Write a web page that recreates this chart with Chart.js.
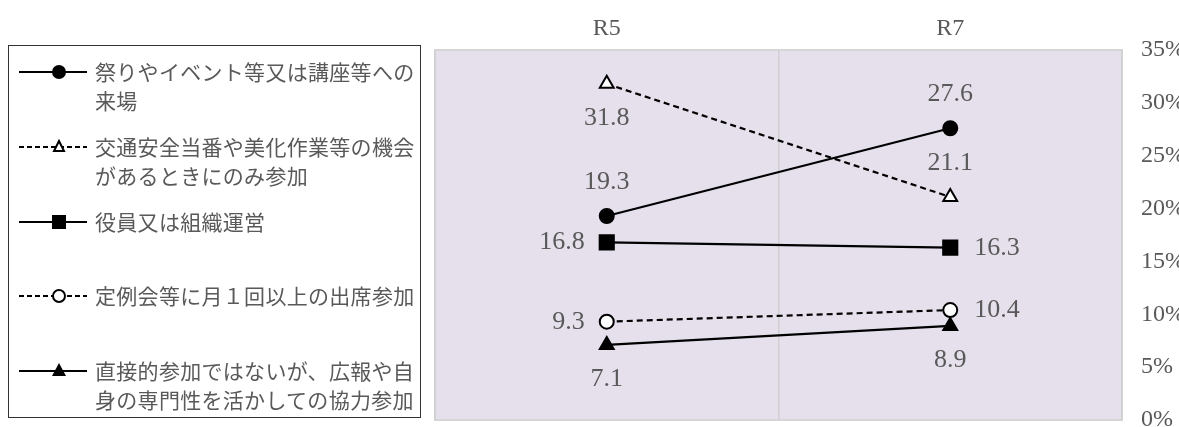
<!DOCTYPE html>
<html>
<head>
<meta charset="utf-8">
<script src="https://cdn.jsdelivr.net/npm/chart.js@4/dist/chart.umd.min.js"></script>
<style>
  body { margin: 0; background: #fff; }
  #wrap { position: relative; width: 1179px; height: 427px; overflow: hidden; }
  /* canvas a little taller than the page so the plot reaches y=420 and 0% is cut like the original */
  #chartBox { position: absolute; left: 0; top: 0; width: 1179px; height: 432px; }
  #legend {
    position: absolute; left: 8px; top: 45px; width: 413px; height: 373px;
    border: 1.5px solid #333; box-sizing: border-box; background: #fff;
  }
  .item { position: absolute; left: 0; width: 410px; }
  .item svg { position: absolute; left: 8px; top: 5px; }
  .item .txt {
    position: absolute; left: 86px; top: 0; width: 330px;
    font-family: "Noto Sans CJK JP", sans-serif; font-size: 21px; letter-spacing: 0.3px;
    line-height: 29px; color: #595959;
  }
</style>
</head>
<body>
<div id="wrap">
  <div id="chartBox"><canvas id="myChart"></canvas></div>
  <div id="legend"></div>
</div>
<script>
const years = ['R5', 'R7'];
const seriesNames = [
  '祭りやイベント等又は講座等への来場',
  '交通安全当番や美化作業等の機会があるときにのみ参加',
  '役員又は組織運営',
  '定例会等に月１回以上の出席参加',
  '直接的参加ではないが、広報や自身の専門性を活かしての協力参加'
];
const festival = [19.3, 27.6];
const trafficSafety = [31.8, 21.1];
const officer = [16.8, 16.3];
const monthlyMeeting = [9.3, 10.4];
const indirect = [7.1, 8.9];
const yTicks = [0, 5, 10, 15, 20, 25, 30, 35];

// where each value label sits relative to its point (R5, R7)
const labelSides = [
  ['above', 'above'],
  ['below', 'above'],
  ['left', 'right'],
  ['left', 'right'],
  ['below', 'below']
];

const markers = [
  { style: 'circle', radius: 7, fill: '#000', dash: [] },
  { style: 'triangle', radius: 8, fill: '#fff', dash: [6, 4] },
  { style: 'rect', radius: 10, fill: '#000', dash: [] },
  { style: 'circle', radius: 7, fill: '#fff', dash: [6, 4] },
  { style: 'triangle', radius: 8, fill: '#000', dash: [] }
];

const allValues = [festival, trafficSafety, officer, monthlyMeeting, indirect];

const datasets = allValues.map((vals, i) => ({
  label: seriesNames[i],
  data: vals,
  borderColor: '#000',
  borderWidth: 2.2,
  borderDash: markers[i].dash,
  pointStyle: markers[i].style,
  pointRadius: markers[i].radius,
  pointBackgroundColor: markers[i].fill,
  pointBorderColor: '#000',
  pointBorderWidth: 2,
  fill: false,
  tension: 0
}));

const plotBg = {
  id: 'plotBg',
  beforeDraw(chart) {
    const { ctx, chartArea: a } = chart;
    ctx.save();
    ctx.fillStyle = '#e5e0ec';
    ctx.fillRect(a.left, a.top, a.right - a.left, a.bottom - a.top);
    ctx.strokeStyle = '#d6d6d6';
    ctx.lineWidth = 2;
    ctx.strokeRect(a.left, a.top, a.right - a.left, a.bottom - a.top);
    ctx.restore();
  }
};

const valueLabels = {
  id: 'valueLabels',
  afterDatasetsDraw(chart) {
    const ctx = chart.ctx;
    ctx.save();
    ctx.font = '26px "Liberation Serif", serif';
    ctx.fillStyle = '#595959';
    ctx.textBaseline = 'middle';
    chart.data.datasets.forEach((ds, i) => {
      chart.getDatasetMeta(i).data.forEach((pt, j) => {
        const side = labelSides[i][j];
        let x = pt.x, y = pt.y;
        ctx.textAlign = 'center';
        if (side === 'above') y -= 34;
        if (side === 'below') y += 34;
        if (side === 'left') { x -= 22; ctx.textAlign = 'right'; }
        if (side === 'right') { x += 24; ctx.textAlign = 'left'; }
        ctx.fillText(ds.data[j].toFixed(1), x, y);
      });
    });
    ctx.restore();
  }
};

const config = {
  type: 'line',
  data: { labels: years, datasets: datasets },
  options: {
    responsive: true,
    maintainAspectRatio: false,
    animation: false,
    layout: { padding: { left: 435, right: 0, top: 0, bottom: 1 } },
    plugins: { legend: { display: false }, tooltip: { enabled: false } },
    scales: {
      x: {
        position: 'top',
        offset: true,
        grid: { offset: true, color: '#d0d0d0', lineWidth: 1.5, drawTicks: false },
        border: { display: false },
        ticks: { color: '#595959', font: { family: '"Liberation Serif", serif', size: 24 }, padding: 7 },
        afterFit(scale) { scale.height = 50; }
      },
      y: {
        position: 'right',
        min: 0,
        max: 35,
        afterBuildTicks(scale) { scale.ticks = yTicks.map(v => ({ value: v })); },
        grid: { display: false, drawTicks: false },
        border: { display: false },
        ticks: {
          color: '#595959',
          font: { family: '"Liberation Serif", serif', size: 24 },
          padding: 19,
          callback: v => v + '%'
        },
        afterFit(scale) { scale.width = 57; scale.paddingTop = 0; scale.paddingBottom = 0; }
      }
    }
  },
  plugins: [plotBg, valueLabels]
};

new Chart(document.getElementById('myChart'), config);

// legend built from the same series info
const legend = document.getElementById('legend');
seriesNames.forEach((name, i) => {
  const m = markers[i];
  const row = document.createElement('div');
  row.className = 'item';
  row.style.top = (11 + i * 74.8) + 'px';
  let shape = '';
  if (m.style === 'circle') shape = `<circle cx="42" cy="10" r="6" fill="${m.fill}" stroke="#000" stroke-width="2"/>`;
  if (m.style === 'rect') shape = `<rect x="35" y="3" width="14" height="14" fill="#000"/>`;
  if (m.style === 'triangle') {
    shape = m.fill === '#fff'
      ? `<polygon points="42,4 47,14 37,14" fill="#fff" stroke="#000" stroke-width="2"/>`
      : `<polygon points="42,2 49,15 35,15" fill="#000"/>`;
  }
  const dash = m.dash.length ? 'stroke-dasharray="5,3"' : '';
  row.innerHTML = `<svg width="70" height="20"><line x1="2" y1="10" x2="76" y2="10" stroke="#000" stroke-width="2.2" ${dash}/>${shape}</svg>` +
    `<div class="txt">${name}</div>`;
  legend.appendChild(row);
});
</script>
</body>
</html>
